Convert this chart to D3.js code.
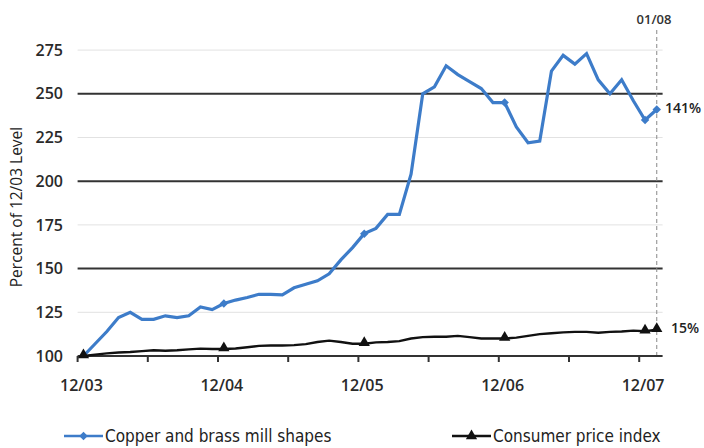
<!DOCTYPE html>
<html lang="en">
<head>
    <meta charset="UTF-8">
    <script src="https://d3js.org/d3.v7.min.js" charset="utf-8"></script>
    <title>Copper vs CPI</title>
</head>
<body style="margin:0;background:#fff">
    <div id="chart"></div>
    <script>
        // monthly data, 12/03 .. 01/08 (percent of 12/03 level)
        const months = d3.range(50).map(i => {
            const m = (11 + i) % 12 + 1, yr = 3 + Math.floor((11 + i) / 12);
            return String(m).padStart(2, "0") + "/" + String(yr).padStart(2, "0");
        });
        const copper = [100, 107, 114, 122, 125, 121, 121, 123, 122, 123, 128, 126.5,
            130, 132, 133.5, 135.3, 135.3, 135, 139, 141, 143, 147, 155, 162,
            170, 173, 181, 181, 204, 250, 254, 266, 261, 257, 253, 245,
            245, 231, 222, 223, 263, 272, 267, 273, 258, 250, 258, 246,
            235, 241];
        const cpi = [100, 100.8, 101.5, 102, 102.3, 102.8, 103.3, 103, 103.3, 103.8, 104.2, 104,
            104, 104.3, 105, 105.8, 106, 106, 106.2, 106.8, 108, 108.8, 108, 107,
            107, 107.8, 108, 108.5, 110, 110.8, 111, 111, 111.5, 110.8, 110, 110,
            110, 110.5, 111.5, 112.5, 113, 113.5, 113.8, 113.8, 113.3, 113.8, 114, 114.5,
            114.2, 115];
        const markerIdx = [0, 12, 24, 36, 48, 49];
        const xLabels = ["12/03", "12/04", "12/05", "12/06", "12/07"];
        const yTicks = [100, 125, 150, 175, 200, 225, 250, 275];
        const majorY = [150, 200, 250];

        const width = 704, height = 448;
        const plotLeft = 77.6, plotRight = 662.6, plotBottom = 356;
        const blue = "#3d7cc9";

        const svg = d3.select("#chart").append("svg")
            .attr("width", width)
            .attr("height", height)
            .style("font-family", "'Open Sans', sans-serif");

        const x = d3.scaleBand().domain(months).range([plotLeft, plotRight]);
        const xc = m => x(m) + x.bandwidth() / 2;
        const y = d3.scaleLinear().domain([100, 275]).range([plotBottom, plotBottom - 175 * 1.748]);

        // gridlines
        svg.append("g").selectAll("line")
            .data(yTicks.filter(v => v > 100))
            .enter().append("line")
            .attr("x1", plotLeft).attr("x2", plotRight)
            .attr("y1", d => y(d)).attr("y2", d => y(d))
            .attr("stroke", d => majorY.includes(d) ? "#333" : "#e2e2e2")
            .attr("stroke-width", d => majorY.includes(d) ? 2 : 1);

        // y labels
        svg.append("g").selectAll("text")
            .data(yTicks)
            .enter().append("text")
            .attr("x", 63).attr("y", d => y(d))
            .attr("dy", "0.35em")
            .attr("text-anchor", "end")
            .attr("font-size", 16)
            .attr("font-weight", 600)
            .attr("fill", "#2a2a2a")
            .text(d => d);

        svg.append("text")
            .attr("transform", "translate(22,207) rotate(-90)")
            .attr("text-anchor", "middle")
            .attr("font-size", 15.5)
            .attr("fill", "#222")
            .text("Percent of 12/03 Level");

        // dashed marker at 01/08
        svg.append("line")
            .attr("x1", xc("01/08")).attr("x2", xc("01/08"))
            .attr("y1", 30).attr("y2", plotBottom)
            .attr("stroke", "#888")
            .attr("stroke-dasharray", "4,3");
        svg.append("text")
            .attr("x", 654).attr("y", 24)
            .attr("text-anchor", "middle")
            .attr("font-size", 13)
            .attr("font-weight", 600)
            .attr("fill", "#333")
            .text("01/08");

        // x axis
        svg.append("line")
            .attr("x1", plotLeft).attr("x2", plotRight)
            .attr("y1", plotBottom).attr("y2", plotBottom)
            .attr("stroke", "#333").attr("stroke-width", 2);
        svg.append("g").selectAll("line")
            .data(months.filter((m, i) => i % 6 === 0))
            .enter().append("line")
            .attr("x1", d => x(d)).attr("x2", d => x(d))
            .attr("y1", plotBottom).attr("y2", plotBottom + 6)
            .attr("stroke", "#333").attr("stroke-width", 2);
        svg.append("g").selectAll("text")
            .data(xLabels)
            .enter().append("text")
            .attr("x", d => xc(d) - 2).attr("y", 391)
            .attr("text-anchor", "middle")
            .attr("font-size", 16)
            .attr("font-weight", 600)
            .attr("fill", "#2a2a2a")
            .text(d => d);

        const line = d3.line().x((d, i) => xc(months[i])).y(d => y(d));

        // CPI
        svg.append("path")
            .attr("d", line(cpi))
            .attr("fill", "none")
            .attr("stroke", "#111")
            .attr("stroke-width", 2.4);

        // copper
        svg.append("path")
            .attr("d", line(copper))
            .attr("fill", "none")
            .attr("stroke", blue)
            .attr("stroke-width", 3.2);

        // diamond = square turned 45 degrees
        const diamond = d3.symbol().type(d3.symbolSquare).size(36);
        const tri = d3.symbol().type(d3.symbolTriangle).size(55);

        svg.append("g").selectAll("path")
            .data(markerIdx.slice(1))
            .enter().append("path")
            .attr("d", diamond)
            .attr("transform", i => "translate(" + xc(months[i]) + "," + y(copper[i]) + ") rotate(45)")
            .attr("fill", blue);

        svg.append("g").selectAll("path")
            .data(markerIdx)
            .enter().append("path")
            .attr("d", tri)
            .attr("transform", i => "translate(" + xc(months[i]) + "," + (y(cpi[i]) - 1) + ")")
            .attr("fill", "#111");

        // end labels
        svg.append("text")
            .attr("x", 665).attr("y", y(copper[49]) - 1)
            .attr("dy", "0.35em")
            .attr("font-size", 14)
            .attr("font-weight", 600)
            .attr("fill", "#222")
            .text("141%");
        svg.append("text")
            .attr("x", 671).attr("y", y(cpi[49]) - 2)
            .attr("dy", "0.35em")
            .attr("font-size", 14)
            .attr("font-weight", 600)
            .attr("fill", "#222")
            .text("15%");

        // legend
        const legend = [
            { name: "Copper and brass mill shapes", color: blue, sym: diamond, rot: 45, x: 64 },
            { name: "Consumer price index", color: "#111", sym: tri, rot: 0, x: 452 }
        ];
        const lg = svg.append("g").selectAll("g")
            .data(legend)
            .enter().append("g")
            .attr("transform", d => "translate(" + d.x + ",436)");
        lg.append("line")
            .attr("x1", 0).attr("x2", 39)
            .attr("stroke", d => d.color)
            .attr("stroke-width", 2.5);
        lg.append("path")
            .attr("d", d => d.sym())
            .attr("transform", d => "translate(19.5,0) rotate(" + d.rot + ")")
            .attr("fill", d => d.color);
        lg.append("text")
            .attr("x", 41).attr("dy", "0.35em")
            .attr("font-family", "'DejaVu Sans Condensed', 'Liberation Sans Narrow', sans-serif")
            .attr("font-size", 17)
            .attr("fill", "#222")
            .text(d => d.name);
    </script>
</body>
</html>
